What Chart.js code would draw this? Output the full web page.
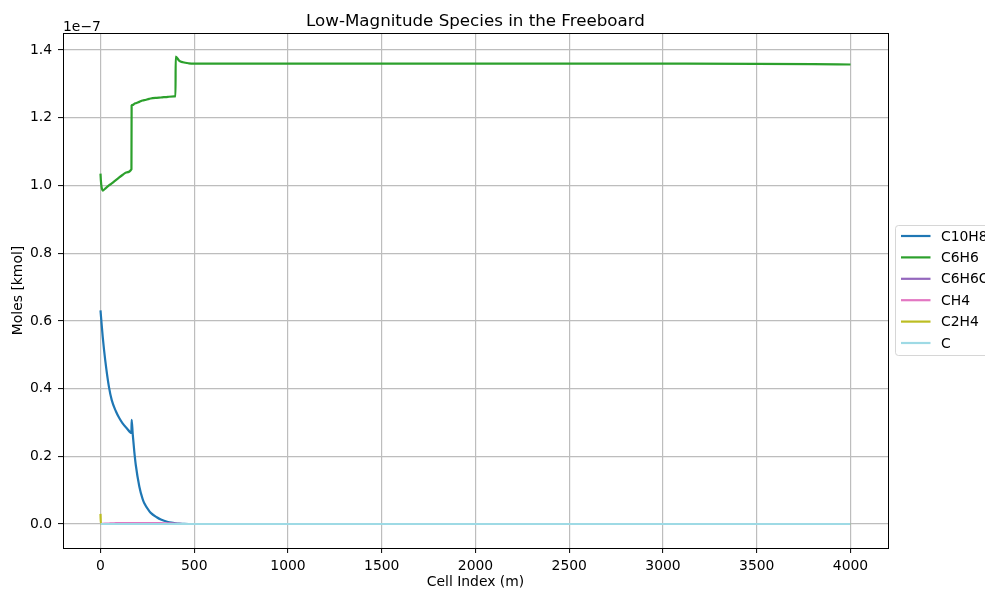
<!DOCTYPE html>
<html>
<head>
<meta charset="utf-8">
<script src="https://cdn.jsdelivr.net/npm/chart.js@4/dist/chart.umd.min.js"></script>
<style>
  html, body { margin: 0; padding: 0; background: #fff; }
  canvas { display: block; }
</style>
</head>
<body>
<canvas id="freeboardChart" width="985" height="590"></canvas>
<script>
// cell positions along the freeboard (m)
const cellIndex = [0, 2, 5, 12, 25, 45, 60, 82, 100, 117, 140, 165, 166, 172, 180, 188, 207, 224, 233, 260, 268, 300, 322, 360, 393, 400, 401, 419, 440, 470, 500, 1000, 2000, 3000, 3500, 3800, 4000];

// moles in units of 1e-7 kmol
const c10h8 = [0.631, 0.617, 0.597, 0.552, 0.485, 0.405, 0.366, 0.333, 0.313, 0.298, 0.283, 0.269, 0.308, 0.265, 0.215, 0.175, 0.111, 0.075, 0.062, 0.038, 0.033, 0.020, 0.013, 0.006, 0.003, 0.002, 0.002, 0.001, 0.0005, 0, 0, 0, 0, 0, 0, 0, 0];
const c6h6 = [1.035, 1.015, 0.998, 0.985, 0.991, 1.000, 1.006, 1.016, 1.024, 1.031, 1.039, 1.048, 1.236, 1.238, 1.241, 1.243, 1.247, 1.251, 1.252, 1.256, 1.257, 1.259, 1.260, 1.262, 1.263, 1.263, 1.381, 1.369, 1.364, 1.361, 1.360, 1.360, 1.360, 1.3598, 1.3595, 1.3585, 1.3575];
const c6h6o = [0, 0, 0, 0, 0, 0, 0, 0, 0, 0, 0, 0, 0, 0, 0, 0, 0, 0, 0, 0, 0, 0, 0, 0, 0, 0, 0, 0, 0, 0, 0, 0, 0, 0, 0, 0, 0];
const ch4 = [0, 0, 0, 0.0005, 0.001, 0.0015, 0.002, 0.0025, 0.003, 0.003, 0.003, 0.003, 0.003, 0.003, 0.003, 0.003, 0.003, 0.003, 0.003, 0.003, 0.003, 0.003, 0.0025, 0.002, 0.0015, 0.001, 0.001, 0.0005, 0, 0, 0, 0, 0, 0, 0, 0, 0];
const c2h4 = [0.030, 0, 0, 0, 0, 0, 0, 0, 0, 0, 0, 0, 0, 0, 0, 0, 0, 0, 0, 0, 0, 0, 0, 0, 0, 0, 0, 0, 0, 0, 0, 0, 0, 0, 0, 0, 0];
const carbon = [0, 0, 0, 0, 0, 0, 0, 0, 0, 0, 0, 0, 0, 0, 0, 0, 0, 0, 0, 0, 0, 0, 0, 0, 0, 0, 0, 0, 0, 0, 0, 0, 0, 0, 0, 0, 0];

const speciesNames = ['C10H8', 'C6H6', 'C6H6O', 'CH4', 'C2H4', 'C'];
const speciesValues = [c10h8, c6h6, c6h6o, ch4, c2h4, carbon];
const speciesColors = ['#1f77b4', '#2ca02c', '#9467bd', '#e377c2', '#bcbd22', '#9edae5'];

const xTicks = [0, 500, 1000, 1500, 2000, 2500, 3000, 3500, 4000];
const yTicks = [0, 0.2, 0.4, 0.6, 0.8, 1.0, 1.2, 1.4];

const FONT = '"DejaVu Sans", sans-serif';

const datasets = speciesNames.map((name, i) => ({
  label: name,
  data: cellIndex.map((x, j) => ({ x: x, y: speciesValues[i][j] })),
  borderColor: speciesColors[i],
  backgroundColor: speciesColors[i],
  borderWidth: 2.2,
  pointRadius: 0,
  cubicInterpolationMode: 'monotone',
  // later species sit on top, like the plotting order
  order: speciesNames.length - i
}));

// title, axis labels, offset text, frame and legend
const decorations = {
  id: 'decorations',
  afterDatasetsDraw(chart) {
    const ctx = chart.ctx;
    const a = chart.chartArea;
    ctx.save();
    ctx.strokeStyle = '#000';
    ctx.lineWidth = 1;
    ctx.strokeRect(Math.round(a.left) + 0.5, Math.round(a.top) + 0.5,
      Math.round(a.right - a.left), Math.round(a.bottom - a.top));
    ctx.restore();
  },
  afterDraw(chart) {
    const ctx = chart.ctx;
    const a = chart.chartArea;
    ctx.save();
    ctx.fillStyle = '#000';

    ctx.font = '16.7px ' + FONT;
    ctx.textAlign = 'center';
    ctx.textBaseline = 'alphabetic';
    ctx.fillText('Low-Magnitude Species in the Freeboard', (a.left + a.right) / 2, 26);

    ctx.font = '13.9px ' + FONT;
    ctx.textBaseline = 'middle';
    ctx.fillText('Cell Index (m)', (a.left + a.right) / 2, 582);

    ctx.save();
    ctx.translate(18, (a.top + a.bottom) / 2);
    ctx.rotate(-Math.PI / 2);
    ctx.fillText('Moles [kmol]', 0, 0);
    ctx.restore();

    ctx.textAlign = 'left';
    ctx.textBaseline = 'alphabetic';
    ctx.fillText('1e\u22127', a.left, 30.5);

    // legend outside the axes on the right
    const lx = 895.5, ly = 225.5, rowH = 21.4;
    ctx.fillStyle = 'rgba(255,255,255,0.8)';
    ctx.strokeStyle = 'rgba(204,204,204,0.8)';
    ctx.lineWidth = 1;
    ctx.beginPath();
    ctx.roundRect(lx, ly, 130, 130, 3);
    ctx.fill();
    ctx.stroke();

    ctx.textBaseline = 'middle';
    chart.data.datasets.forEach((ds, i) => {
      const y = 236 + i * rowH;
      ctx.strokeStyle = ds.borderColor;
      ctx.lineWidth = 2.2;
      ctx.beginPath();
      ctx.moveTo(901, y);
      ctx.lineTo(930.5, y);
      ctx.stroke();
      ctx.fillStyle = '#000';
      ctx.fillText(ds.label, 941, y + 1);
    });
    ctx.restore();
  }
};

new Chart(document.getElementById('freeboardChart'), {
  type: 'line',
  data: { datasets: datasets },
  options: {
    responsive: false,
    devicePixelRatio: 1,
    animation: false,
    layout: { padding: { left: 0, right: 97, top: 33, bottom: 0 } },
    plugins: {
      legend: { display: false },
      title: { display: false },
      tooltip: { enabled: false }
    },
    scales: {
      x: {
        type: 'linear',
        min: -200,
        max: 4200,
        afterBuildTicks: s => { s.ticks = xTicks.map(v => ({ value: v })); },
        afterFit: s => { s.height = 42; },
        grid: { color: '#bdbdbd', lineWidth: 1.2, tickLength: 5, tickColor: '#000', tickWidth: 1 },
        border: { display: false },
        ticks: {
          color: '#000',
          padding: 5,
          maxRotation: 0,
          font: { family: FONT, size: 13.9 },
          callback: v => String(v)
        }
      },
      y: {
        type: 'linear',
        min: -0.0709,
        max: 1.4505,
        afterBuildTicks: s => { s.ticks = yTicks.map(v => ({ value: v })); },
        afterFit: s => { s.width = 63; },
        grid: { color: '#bdbdbd', lineWidth: 1.2, tickLength: 5, tickColor: '#000', tickWidth: 1 },
        border: { display: false },
        ticks: {
          color: '#000',
          padding: 6,
          font: { family: FONT, size: 13.9 },
          callback: v => v.toFixed(1)
        }
      }
    }
  },
  plugins: [decorations]
});
</script>
</body>
</html>
